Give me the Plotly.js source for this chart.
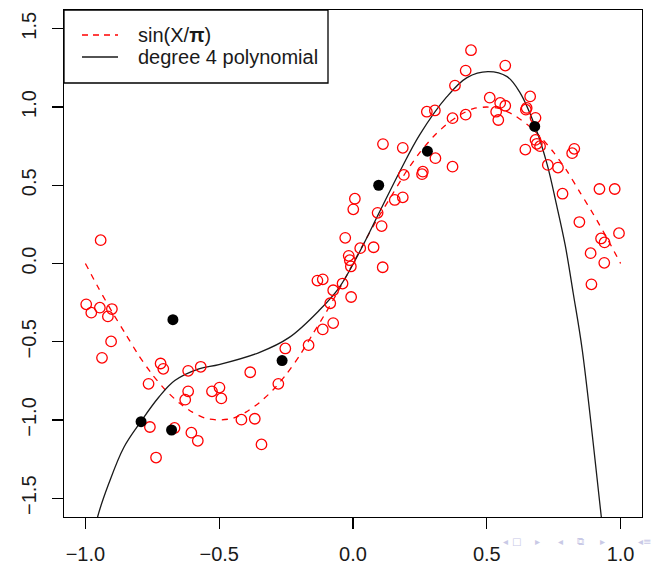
<!DOCTYPE html>
<html>
<head>
<meta charset="utf-8">
<script src="https://cdn.plot.ly/plotly-3.0.1.min.js"></script>
<style>
  html, body { margin: 0; padding: 0; background: #ffffff; }
  #chart { width: 653px; height: 568px; }
</style>
</head>
<body>
<div id="chart"></div>
<script>
// ---- data ----
const redX = [-0.997,-0.978,-0.946,-0.901,-0.916,-0.943,-0.904,-0.938,-0.719,-0.709,-0.616,-0.569,-0.384,-0.764,-0.616,-0.627,-0.527,-0.499,-0.492,-0.253,-0.279,-0.759,-0.667,-0.604,-0.580,-0.417,-0.367,-0.342,-0.736,
  0.112,0.186,0.308,0.372,0.190,0.261,0.258,0.156,0.186,0.007,0.001,0.092,0.107,-0.029,0.027,0.077,-0.016,-0.012,-0.008,0.111,-0.133,-0.113,-0.039,-0.074,-0.007,-0.085,-0.074,-0.113,-0.166,
  0.441,0.569,0.421,0.381,0.276,0.306,0.372,0.421,0.511,0.550,0.569,0.535,0.543,0.662,0.649,0.646,0.682,0.682,0.687,0.699,0.644,0.827,0.819,0.728,0.766,0.783,0.921,0.978,
  0.846,0.994,0.927,0.940,0.888,0.939,0.891];
const redY = [-0.261,-0.314,-0.282,-0.291,-0.338,0.149,-0.498,-0.603,-0.639,-0.673,-0.686,-0.660,-0.695,-0.769,-0.817,-0.870,-0.817,-0.793,-0.862,-0.543,-0.769,-1.045,-1.051,-1.081,-1.133,-0.998,-0.992,-1.156,-1.240,
  0.763,0.739,0.673,0.619,0.566,0.587,0.571,0.406,0.423,0.414,0.346,0.324,0.239,0.164,0.098,0.104,0.049,0.021,-0.019,-0.024,-0.109,-0.101,-0.128,-0.171,-0.214,-0.254,-0.381,-0.421,-0.522,
  1.363,1.265,1.233,1.137,0.970,0.978,0.929,0.951,1.060,1.026,1.008,0.970,0.917,1.068,0.994,0.983,0.931,0.790,0.765,0.750,0.728,0.733,0.705,0.630,0.613,0.446,0.476,0.476,
  0.265,0.194,0.160,0.135,0.066,0.004,-0.133];

const blackX = [-0.792,-0.678,-0.673,-0.265,0.096,0.278,0.679];
const blackY = [-1.011,-1.064,-0.359,-0.620,0.500,0.718,0.876];

const sinX = [-1.00,-0.95,-0.90,-0.85,-0.80,-0.75,-0.70,-0.65,-0.60,-0.55,-0.50,-0.45,-0.40,-0.35,-0.30,-0.25,-0.20,-0.15,-0.10,-0.05,
  0.00,0.05,0.10,0.15,0.20,0.25,0.30,0.35,0.40,0.45,0.50,0.55,0.60,0.65,0.70,0.75,0.80,0.85,0.90,0.95,1.00];
const sinY = [0.00,-0.16,-0.31,-0.45,-0.59,-0.71,-0.81,-0.89,-0.95,-0.99,-1.00,-0.99,-0.95,-0.89,-0.81,-0.71,-0.59,-0.45,-0.31,-0.16,
  0.00,0.16,0.31,0.45,0.59,0.71,0.81,0.89,0.95,0.99,1.00,0.99,0.95,0.89,0.81,0.71,0.59,0.45,0.31,0.16,0.00];

const polyX = [-0.966,-0.954,-0.913,-0.857,-0.793,-0.726,-0.666,-0.576,-0.501,-0.351,-0.238,-0.126,-0.051,0.024,0.099,0.174,0.249,0.351,0.426,0.504,0.576,0.624,0.681,0.726,0.759,0.793,0.823,0.857,0.928,0.940];
const polyY = [-1.72,-1.617,-1.408,-1.177,-1.011,-0.855,-0.748,-0.673,-0.646,-0.569,-0.472,-0.299,-0.152,0.072,0.329,0.585,0.822,1.066,1.188,1.226,1.194,1.092,0.874,0.630,0.387,0.117,-0.190,-0.556,-1.620,-1.80];

const xTickVals = [-1.0,-0.5,0.0,0.5,1.0];
const xTickText = ['\u22121.0','\u22120.5','0.0','0.5','1.0'];
const yTickVals = [-1.5,-1.0,-0.5,0.0,0.5,1.0,1.5];
const yTickText = ['\u22121.5','\u22121.0','\u22120.5','0.0','0.5','1.0','1.5'];

const legendLabels = ['sin(X/<b>\u03c0</b>)','degree 4 polynomial'];
const navGlyphs = ['\u25c2','\u25a1','\u25b8','\u25c2','\u29c9','\u25b8','\u25c2','\u2261'];

// ---- layout helpers (pixel -> paper) ----
const W = 653, H = 568;
const M = {l: 64, r: 11, t: 10, b: 51};
const PW = W - M.l - M.r, PH = H - M.t - M.b;
const px = p => (p - M.l) / PW;
const py = p => 1 - (p - M.t) / PH;

const FONT = '"Liberation Sans", Arial, Helvetica, sans-serif';

const traces = [
  {x: sinX, y: sinY, type: 'scatter', mode: 'lines', name: legendLabels[0],
   line: {color: '#ff0000', width: 1.3, dash: '6px,6px', shape: 'spline', smoothing: 0.6},
   hoverinfo: 'skip'},
  {x: polyX, y: polyY, type: 'scatter', mode: 'lines', name: legendLabels[1],
   line: {color: '#1a1a1a', width: 1.3, shape: 'spline', smoothing: 1.0},
   hoverinfo: 'skip'},
  {x: redX, y: redY, type: 'scatter', mode: 'markers', name: 'sample',
   marker: {symbol: 'circle-open', size: 10.5, color: '#ff0000', line: {width: 1.3, color: '#ff0000'}},
   cliponaxis: true},
  {x: blackX, y: blackY, type: 'scatter', mode: 'markers', name: 'training',
   marker: {symbol: 'circle', size: 11, color: '#000000'}, cliponaxis: true}
];

const shapes = [
  // legend box
  {type: 'rect', xref: 'paper', yref: 'paper', x0: 0, x1: px(328), y0: py(83), y1: 1,
   line: {color: '#000000', width: 1.3}, fillcolor: '#ffffff', layer: 'above'},
  {type: 'line', xref: 'paper', yref: 'paper', x0: px(82), x1: px(118), y0: py(35), y1: py(35),
   line: {color: '#ff0000', width: 1.3, dash: '6px,5px'}, layer: 'above'},
  {type: 'line', xref: 'paper', yref: 'paper', x0: px(82), x1: px(118), y0: py(57), y1: py(57),
   line: {color: '#1a1a1a', width: 1.3}, layer: 'above'}
];

const annotations = [
  {xref: 'paper', yref: 'paper', x: px(136), y: py(35), xanchor: 'left', yanchor: 'middle',
   text: legendLabels[0], showarrow: false, font: {family: FONT, size: 20, color: '#1a1a1a'}},
  {xref: 'paper', yref: 'paper', x: px(136), y: py(57), xanchor: 'left', yanchor: 'middle',
   text: legendLabels[1], showarrow: false, font: {family: FONT, size: 20, color: '#1a1a1a'}}
];
const navPos = [505, 516, 537, 560, 580, 602, 640, 647];
navGlyphs.forEach((g, i) => {
  annotations.push({xref: 'paper', yref: 'paper', x: px(navPos[i]), y: py(541),
    xanchor: 'center', yanchor: 'middle', text: g, showarrow: false,
    font: {family: '"DejaVu Sans", sans-serif', size: 10, color: '#c9c9e6'}});
});

const axisCommon = {
  showline: true, mirror: true, linecolor: '#000000', linewidth: 1.3,
  ticks: 'outside', ticklen: 11, tickwidth: 1.3, tickcolor: '#000000',
  showgrid: false, zeroline: false,
  tickfont: {family: FONT, size: 20, color: '#1a1a1a'},
  tickmode: 'array', ticklabelstandoff: 8
};

const layout = {
  width: W, height: H,
  margin: M,
  paper_bgcolor: '#ffffff', plot_bgcolor: '#ffffff',
  showlegend: false,
  xaxis: Object.assign({}, axisCommon, {range: [-1.08, 1.08], tickvals: xTickVals, ticktext: xTickText}),
  yaxis: Object.assign({}, axisCommon, {range: [-1.62, 1.62], tickvals: yTickVals, ticktext: yTickText, tickangle: -90}),
  shapes: shapes,
  annotations: annotations
};

Plotly.newPlot('chart', traces, layout, {displayModeBar: false, staticPlot: true});
</script>
</body>
</html>
